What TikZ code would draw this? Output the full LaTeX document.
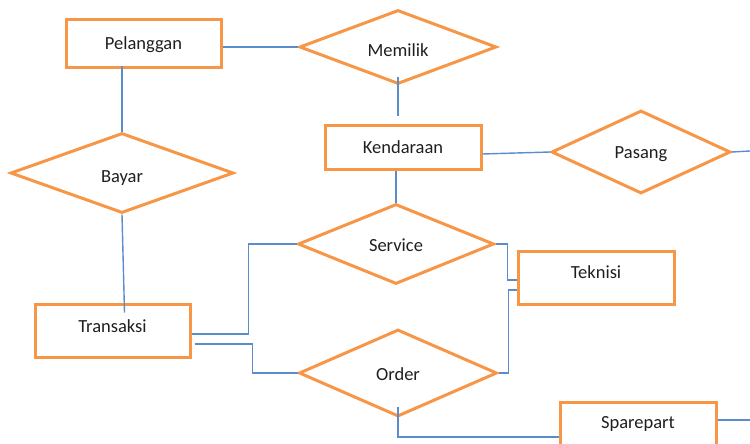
\documentclass[tikz,border=0pt]{standalone}
\usepackage{fontspec}
\setmainfont{Carlito}
\usetikzlibrary{shapes.geometric}
\definecolor{erorange}{HTML}{F79646}
\definecolor{erblue}{HTML}{5B8DCD}
\definecolor{ertext}{HTML}{1F1F1F}
\tikzset{
  entity/.style={draw=erorange, line width=3pt, rectangle, minimum width=155pt, inner sep=0pt,
    text height=13pt, text depth=4pt,
    font=\fontsize{18.5}{20}\selectfont, text=ertext},
  relation/.style={draw=erorange, line width=3pt, diamond, aspect=2.5, inner sep=0pt,
    text height=13pt, text depth=4pt,
    font=\fontsize{18.5}{20}\selectfont, text=ertext},
  link/.style={draw=erblue, line width=1.4pt}
}
\begin{document}
\begin{tikzpicture}[x=1pt,y=-1pt]
\useasboundingbox (0,0) rectangle (750,444);
\clip (0,0) rectangle (750,444);
% entities
\node[entity, minimum height=48pt, text height=15pt] (pel) at (143.5,44) {Pelanggan};
\node[entity, minimum width=156pt, minimum height=44pt, text height=16pt] (ken) at (403,147) {Kendaraan};
\node[entity, minimum height=53pt, text depth=10pt] (tra) at (112.5,330.5) {Transaksi};
\node[entity, minimum width=156pt, minimum height=53pt, text depth=12pt] (tek) at (596,277.5) {Teknisi};
\node[entity, minimum width=156pt, minimum height=53pt, text depth=13pt] (spa) at (638,428.5) {Sparepart};
% relations
\node[relation, minimum width=197pt, minimum height=74pt, text height=23pt] (mem) at (398,47) {Memilik};
\node[relation, minimum width=179pt, minimum height=83pt, text height=17pt] (pas) at (641,152) {Pasang};
\node[relation, minimum width=223pt, minimum height=80pt, text height=22pt] (bay) at (122,173) {Bayar};
\node[relation, minimum width=196pt, minimum height=80pt, text height=19pt] (ser) at (396,244) {Service};
\node[relation, minimum width=198pt, minimum height=87pt, text height=18pt] (ord) at (398,373) {Order};
% free ends
\coordinate (pasEnd) at (750,151);
\coordinate (spaEnd) at (750,420);
% connectors
\draw[link] (pel.east |- mem.west) -- (mem.west);
\draw[link] ([yshift=8pt]mem.south) -- ([yshift=8pt]mem.south |- ken.north);
\draw[link] (ser.north |- ken.south) -- (ser.north);
\draw[link] ([yshift=-7pt]ken.east) -- (pas.west);
\draw[link] (pas.east) -- (pasEnd);
\draw[link] ([yshift=3pt]bay.north |- pel.south) -- (bay.north);
\draw[link] (bay.south) -- ([xshift=12pt,yshift=-10pt]tra.north);
\draw[link] ([yshift=-3.5pt]tra.east) -- ++(57,0) |- (ser.west);
\draw[link] ([shift={(3pt,-13.5pt)}]tra.east) -- ++(58,0) |- (ord.west);
\draw[link] (ser.east) -- ++(12,0) |- ([yshift=-2.5pt]tek.west);
\draw[link] (ord.east) -- ++(10,0) |- ([yshift=-12.5pt]tek.west);
\draw[link] ([yshift=11pt]ord.south) |- ([yshift=-8.5pt]spa.west);
\draw[link] ([yshift=8.5pt]spa.east) -- (spaEnd);
\end{tikzpicture}
\end{document}
